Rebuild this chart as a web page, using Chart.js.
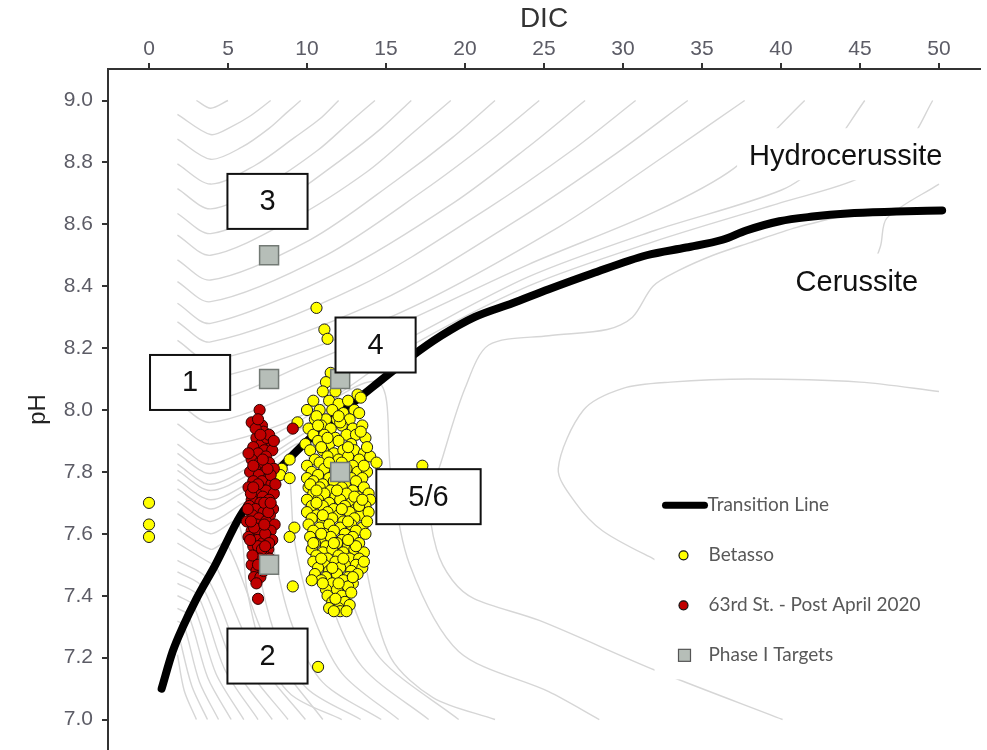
<!DOCTYPE html>
<html><head><meta charset="utf-8">
<script src="https://cdn.jsdelivr.net/npm/chart.js@4.4.1/dist/chart.umd.min.js"></script>
<style>html,body{margin:0;padding:0;background:#fff;}#wrap{width:987px;height:750px;}</style>
</head><body><div id="wrap"><canvas id="c" width="987" height="750"></canvas></div>
<script>
const xTicks = [0,5,10,15,20,25,30,35,40,45,50];
const yTicks = [7.0,7.2,7.4,7.6,7.8,8.0,8.2,8.4,8.6,8.8,9.0];
const xTitle = 'DIC';
const yTitle = 'pH';

const transitionDIC = [0.8,1.5,2.15,3.0,4.2,5.8,7.0,8.35,9.6,10.9,13.2,16.4,18.5,20.6,23.0,25.3,28.0,31.5,34.0,36.3,37.8,39.9,42.0,44.2,47.3,50.2];
const transitionPH  = [7.10,7.22,7.30,7.39,7.50,7.66,7.74,7.815,7.88,7.94,8.035,8.165,8.24,8.30,8.345,8.39,8.44,8.50,8.525,8.55,8.58,8.61,8.625,8.635,8.641,8.645];

const betasso = [
[11.5,8.12],[11.2,8.09],[12.3,8.09],[11.0,8.06],[11.8,8.06],[13.2,8.05],[13.4,8.04],
[10.4,8.03],[11.4,8.03],[12.0,8.02],[12.6,8.03],
[10.0,8.00],[10.8,8.00],[11.6,8.00],[12.3,7.99],[13.0,8.00],[13.3,7.99],
[9.4,7.96],[10.5,7.97],[11.2,7.97],[11.9,7.97],[12.7,7.97],
[10.1,7.94],[10.9,7.95],[11.5,7.94],[12.2,7.95],[12.9,7.94],[13.5,7.95],
[10.4,7.92],[11.1,7.92],[11.8,7.91],[12.5,7.92],[13.1,7.92],[13.7,7.91],
[9.9,7.89],[10.7,7.90],[11.4,7.89],[12.0,7.90],[12.8,7.89],
[10.2,7.87],[11.0,7.87],[11.7,7.86],[12.3,7.87],[13.0,7.87],[13.6,7.86],
[10.5,7.84],[11.3,7.85],[12.0,7.84],[12.6,7.85],[13.3,7.84],[14.0,7.85],
[8.9,7.84],[10.0,7.82],[10.8,7.83],[11.5,7.82],[12.2,7.83],[12.9,7.82],[14.4,7.83],[17.3,7.82],
[8.4,7.81],[10.3,7.80],[11.1,7.81],[11.8,7.80],[12.5,7.81],[13.2,7.80],[13.8,7.80],
[8.3,7.79],[10.0,7.78],[10.7,7.79],[11.4,7.78],[12.1,7.79],[12.8,7.78],[13.5,7.78],
[8.9,7.78],[10.4,7.77],[11.0,7.76],[11.7,7.77],[12.4,7.76],[13.1,7.77],
[10.1,7.75],[10.8,7.75],[11.5,7.74],[12.2,7.75],[12.9,7.74],[13.6,7.75],
[10.4,7.73],[11.1,7.73],[11.8,7.72],[12.5,7.73],[13.2,7.72],[13.9,7.73],
[10.0,7.71],[10.7,7.71],[11.4,7.70],[12.1,7.71],[12.8,7.70],[14.0,7.71],
[10.3,7.69],[11.0,7.69],[11.7,7.68],[12.4,7.69],[13.1,7.68],[13.7,7.69],
[10.0,7.67],[10.6,7.66],[11.3,7.67],[12.0,7.66],[12.7,7.67],[13.4,7.66],[13.9,7.67],
[10.3,7.65],[11.0,7.64],[11.6,7.65],[12.3,7.64],[13.0,7.65],
[10.1,7.63],[10.8,7.62],[11.4,7.63],[12.1,7.62],[12.8,7.63],[13.5,7.62],
[9.2,7.62],[10.4,7.61],[11.1,7.60],[11.7,7.61],[12.4,7.60],[13.1,7.61],[13.7,7.60],
[10.2,7.59],[10.9,7.58],[11.5,7.59],[12.2,7.58],[12.9,7.59],[8.9,7.59],
[10.5,7.57],[11.2,7.56],[11.9,7.57],[12.6,7.56],[13.3,7.57],
[10.3,7.55],[11.0,7.54],[11.6,7.55],[12.3,7.54],[13.0,7.55],[13.6,7.54],
[10.6,7.53],[11.3,7.52],[12.0,7.53],[12.7,7.52],[13.3,7.52],
[10.4,7.51],[11.1,7.50],[11.8,7.51],[12.4,7.50],[13.1,7.50],
[10.7,7.49],[11.4,7.48],[12.1,7.49],[12.8,7.48],[13.5,7.49],
[10.5,7.47],[11.2,7.46],[11.9,7.47],[12.6,7.46],[13.2,7.47],
[10.9,7.45],[11.6,7.44],[12.3,7.45],[12.9,7.44],[10.3,7.45],
[9.1,7.43],[11.2,7.42],[11.9,7.42],[12.6,7.43],
[11.3,7.40],[12.2,7.40],[12.8,7.41],[11.6,7.38],[12.4,7.38],
[11.4,7.36],[12.0,7.36],[12.1,7.35],
[10.6,7.98],[12.1,7.96],[13.4,7.93],[10.9,7.88],[12.6,7.88],[11.4,7.83],[13.6,7.82],[10.2,7.76],[11.9,7.74],[13.0,7.72],
[10.6,7.70],[12.2,7.68],[13.3,7.69],[11.0,7.66],[12.6,7.64],[13.8,7.64],[10.4,7.57],[11.7,7.57],[13.1,7.56],[10.9,7.52],
[12.3,7.52],[13.6,7.51],[11.6,7.49],[12.9,7.46],[11.0,7.44],[12.0,7.44],[11.8,7.39],[12.7,7.37],[11.7,7.35],[12.5,7.35],
[10.7,7.95],[12.0,7.98],[11.3,7.91],[13.8,7.88],[10.6,7.74],[13.5,7.71],[10.9,7.60],[12.6,7.58],
[0,7.70],[0,7.63],[0,7.59],[10.6,8.33],[11.1,8.26],[11.3,8.23],[10.7,7.17]
];

const st63 = [
[7.0,8.00],[6.5,7.96],[7.15,7.95],[9.1,7.94],[6.8,7.91],[7.5,7.90],[7.1,7.89],[6.6,7.88],[7.3,7.87],[7.8,7.87],
[6.9,7.86],[7.4,7.85],[6.5,7.84],[7.0,7.83],[7.6,7.83],[7.2,7.82],[6.7,7.81],[7.9,7.81],[7.35,7.80],[6.4,7.80],
[6.95,7.79],[7.55,7.78],[7.15,7.77],[6.6,7.77],[7.75,7.76],[7.0,7.75],[6.3,7.75],[7.4,7.74],[6.8,7.73],[7.9,7.73],
[7.2,7.72],[6.5,7.71],[7.6,7.71],[7.05,7.70],[6.35,7.69],[7.45,7.69],[6.75,7.68],[7.85,7.68],[7.25,7.67],[6.55,7.66],
[7.65,7.66],[6.95,7.65],[6.2,7.64],[7.4,7.64],[7.95,7.63],[6.8,7.63],[7.15,7.62],[6.5,7.61],[7.7,7.61],[7.0,7.60],
[6.3,7.59],[7.45,7.59],[6.85,7.58],[7.8,7.58],[7.2,7.57],[6.6,7.56],[7.55,7.55],[6.95,7.54],[7.3,7.53],[6.7,7.52],
[7.1,7.51],[6.5,7.50],[7.4,7.49],[6.8,7.48],[6.65,7.46],[7.05,7.46],[6.8,7.44],[6.9,7.39],
[7.25,7.93],[7.45,7.91],[6.75,7.94],[7.6,7.92],[7.05,7.92],[6.6,7.82],[7.7,7.79],[7.5,7.81],[6.9,7.76],[7.3,7.70],
[6.45,7.73],[7.55,7.67],[6.65,7.62],[7.35,7.60],[7.6,7.57],[6.9,7.56],[7.15,7.55],[7.0,7.52],[6.55,7.53],[7.25,7.48],
[6.4,7.58],[7.65,7.52],[6.25,7.68],[8.0,7.76],[7.9,7.90],[6.3,7.86],
[6.9,7.97],[7.2,7.84],[6.6,7.75],[7.3,7.63],[6.9,7.50],[7.35,7.56],[6.45,7.64],[7.7,7.70]
];

const phaseTargets = [[7.6,8.50],[7.6,8.10],[12.1,8.10],[12.1,7.80],[7.6,7.50]];

const seriesNames = ['Transition Line','Betasso','63rd St. - Post April 2020','Phase I Targets'];

const boxLabels = ['3','1','4','5/6','2'];
const boxDIC = [7.5,2.6,14.34,17.69,7.5];
const boxPH = [8.674,8.089,8.21,7.72,7.205];

const regionLabels = ['Hydrocerussite','Cerussite'];
const regionDIC = [44.1,44.8];
const regionPH = [8.82,8.415];

// background solubility contours [DIC, pH]
const contourLines = [
[[3.0,9.0],[3.9,8.975],[5.0,9.0]],
[[1.8,8.955],[3.9,8.89],[5.2,8.915],[6.4,8.95],[7.7,9.0]],
[[1.8,8.875],[3.9,8.81],[5.9,8.85],[7.6,8.91],[8.7,8.96],[9.6,9.0]],
[[1.8,8.795],[3.9,8.73],[6.7,8.79],[9.2,8.88],[10.8,8.94],[12.0,9.0]],
[[1.8,8.715],[3.9,8.65],[7.5,8.73],[10.7,8.84],[12.7,8.93],[14.3,9.0]],
[[1.8,8.635],[3.9,8.57],[8.3,8.67],[12.2,8.81],[14.7,8.91],[16.6,9.0]],
[[1.8,8.565],[3.9,8.50],[9.2,8.62],[13.8,8.77],[16.8,8.90],[19.1,9.0]],
[[1.8,8.485],[3.9,8.42],[10.2,8.55],[15.6,8.74],[19.2,8.88],[21.9,9.0]],
[[1.8,8.415],[3.9,8.35],[11.2,8.50],[17.4,8.71],[21.6,8.87],[24.7,9.0]],
[[1.8,8.345],[3.9,8.28],[12.2,8.45],[19.3,8.67],[24.0,8.85],[27.6,9.0]],
[[1.8,8.285],[3.9,8.22],[13.3,8.40],[21.4,8.65],[26.8,8.84],[30.8,9.0]],
[[1.8,8.225],[3.9,8.16],[14.5,8.35],[23.5,8.62],[29.6,8.83],[34.1,9.0]],
[[1.8,8.165],[3.9,8.10],[15.7,8.31],[25.9,8.59],[32.6,8.82],[37.7,9.0]],
[[1.8,8.095],[3.9,8.03],[10,8.15],[16,8.28],[24,8.47],[32,8.64],[37,8.78],[41.5,9.0]],
[[1.8,8.025],[3.9,7.96],[10,8.07],[16,8.22],[24,8.43],[32,8.58],[40,8.71],[42.5,8.80],[45.3,9.0]],
[[1.8,7.955],[3.9,7.89],[10,7.99],[16,8.19],[24,8.40],[32,8.545],[40,8.67],[45,8.75],[48,8.86],[49.6,9.0]],
// contours rising to the transition line then descending
[[1.8,7.89],[3.9,7.825],[9,7.95],[14.5,8.09],[15.3,7.8],[16.5,7.5],[19.6,7.22],[25.3,7.09],[28.5,7.0]],
[[1.8,7.86],[3.9,7.795],[8,7.89],[12.5,8.01],[13.0,7.75],[13.9,7.45],[15.3,7.2],[18,7.07],[21.9,7.0]],
[[1.8,7.825],[3.9,7.76],[7.5,7.85],[11.0,7.94],[11.6,7.68],[12.6,7.42],[14.6,7.2],[19.6,7.0]],
[[1.8,7.805],[3.9,7.74],[7,7.81],[9.8,7.89],[10.4,7.63],[11.5,7.38],[13.5,7.17],[17.7,7.0]],
[[1.8,7.775],[3.9,7.71],[6.5,7.77],[8.6,7.83],[9.2,7.58],[10.3,7.35],[12.2,7.15],[15.8,7.0]],
[[1.8,7.745],[3.9,7.68],[5.8,7.73],[7.4,7.77],[8.0,7.52],[9.1,7.3],[11.0,7.12],[14.7,7.0]],
[[1.8,7.705],[3.9,7.64],[6.4,7.70],[7.0,7.47],[8.1,7.26],[10.0,7.1],[13.4,7.0]],
[[1.8,7.665],[3.9,7.60],[5.6,7.64],[6.2,7.42],[7.2,7.22],[9.0,7.08],[12.2,7.0]],
[[1.8,7.615],[3.9,7.55],[4.9,7.57],[7.65,7.228],[11.0,7.0]],
[[1.8,7.57],[3.9,7.505],[4.2,7.50],[6.77,7.20],[9.9,7.0]],
[[1.8,7.514],[3.7,7.455],[6.0,7.182],[8.8,7.0]],
[[1.8,7.477],[3.4,7.427],[5.38,7.171],[7.8,7.0]],
[[1.8,7.44],[3.1,7.40],[4.81,7.16],[6.9,7.0]],
[[1.8,7.40],[2.8,7.369],[4.24,7.148],[6.0,7.0]],
[[1.8,7.359],[2.5,7.337],[3.72,7.135],[5.2,7.0]],
[[1.8,7.318],[2.2,7.306],[3.19,7.122],[4.4,7.0]],
[[1.9,7.27],[2.71,7.108],[3.7,7.0]],
[[1.8,7.21],[2.23,7.093],[3.0,7.0]],
// cerussite-field loops
[[44.5,8.635],[41,8.59],[38,8.54],[35.7,8.50],[33.5,8.45],[31.9,8.40],[30.6,8.30],[29,8.26],[25.3,8.24],[21.5,8.21],[20,8.07],[18.6,7.85],[17.8,7.7],[18.2,7.55],[19.2,7.45],[20.6,7.39],[24.7,7.32],[32,7.16],[40.1,7.0]],
[[50,8.06],[45,8.09],[38,8.10],[33,8.09],[30,8.07],[27.5,8.00],[25.9,7.81],[27,7.70],[28.7,7.61],[31.9,7.52],[36,7.42],[42,7.32],[50,7.22]],
[[50,8.73],[46.7,8.62],[46.3,8.53],[45.5,8.42],[45.2,8.37]]
];

const AX_FONT = 'Liberation Sans';

const contourDatasets = contourLines.map(pts => ({
  type: 'scatter', showLine: true, fill: false,
  data: pts.map(p => ({x: p[0], y: p[1]})),
  borderColor: '#d6d6d6', borderWidth: 1.4, pointRadius: 0, pointHoverRadius: 0,
  tension: 0.3, order: 10
}));

const datasets = [
  {
    label: seriesNames[3], data: phaseTargets.map(p => ({x: p[0], y: p[1]})),
    pointStyle: 'rect', pointRadius: 13.4, backgroundColor: '#b6beb8', borderColor: '#737a75', borderWidth: 1.5, order: 1
  },
  {
    label: seriesNames[2], data: st63.map(p => ({x: p[0], y: p[1]})),
    pointRadius: 5.6, backgroundColor: '#c00000', borderColor: '#2a0000', borderWidth: 1, order: 2
  },
  {
    label: seriesNames[1], data: betasso.map(p => ({x: p[0], y: p[1]})),
    pointRadius: 5.6, backgroundColor: '#ffff00', borderColor: '#1a1a1a', borderWidth: 1, order: 3
  },
  {
    label: seriesNames[0], showLine: true, fill: false,
    data: transitionDIC.map((d, i) => ({x: d, y: transitionPH[i]})),
    borderColor: '#000', borderWidth: 8, borderCapStyle: 'round', borderJoinStyle: 'round',
    cubicInterpolationMode: 'monotone', pointRadius: 0, order: 4
  },
  ...contourDatasets
];

const overlay = {
  id: 'overlay',
  afterDatasetsDraw(chart) {
    const ctx = chart.ctx, xs = chart.scales.x, ys = chart.scales.y;
    ctx.save();
    ctx.font = '29px "Liberation Sans"';
    ctx.textBaseline = 'middle'; ctx.textAlign = 'center';
    regionLabels.forEach((t, i) => {
      const cx = xs.getPixelForValue(regionDIC[i]), cy = ys.getPixelForValue(regionPH[i]);
      const w = ctx.measureText(t).width;
      ctx.fillStyle = '#fff';
      ctx.fillRect(cx - w / 2 - 12, cy - 28, w + 24, 52);
      ctx.fillStyle = '#111';
      ctx.fillText(t, cx, cy + 1);
    });
    boxLabels.forEach((t, i) => {
      const cx = xs.getPixelForValue(boxDIC[i]), cy = ys.getPixelForValue(boxPH[i]);
      const tw = ctx.measureText(t).width;
      const w = Math.max(65, tw + 64), h = 55;
      ctx.fillStyle = '#fff';
      ctx.fillRect(cx - w / 2, cy - h / 2, w, h);
      ctx.lineWidth = 2; ctx.strokeStyle = '#111';
      ctx.strokeRect(cx - w / 2, cy - h / 2, w, h);
      ctx.fillStyle = '#111';
      ctx.fillText(t, cx, cy + 1);
    });
    // legend
    const lx = xs.getPixelForValue(32.5), ly = ys.getPixelForValue(7.692);
    ctx.fillStyle = '#fff';
    ctx.fillRect(lx - 8, ly - 22, 290, 196);
    ctx.font = '19px Lato';
    ctx.textAlign = 'left';
    ctx.fillStyle = '#595959';
    const tx = lx + 46, step = 50;
    ctx.beginPath(); ctx.lineCap = 'round'; ctx.lineWidth = 7; ctx.strokeStyle = '#000';
    ctx.moveTo(lx + 3, ly); ctx.lineTo(lx + 42, ly); ctx.stroke();
    ctx.fillText(seriesNames[0], lx + 45, ly);
    [[1, '#ffff00'], [2, '#c00000']].forEach(([k, col]) => {
      const y = ly + step * k;
      ctx.beginPath(); ctx.arc(lx + 21, y, 4.5, 0, Math.PI * 2);
      ctx.fillStyle = col; ctx.fill(); ctx.lineWidth = 1.2; ctx.strokeStyle = '#111'; ctx.stroke();
      ctx.fillStyle = '#595959';
      ctx.fillText(seriesNames[k], tx, y);
    });
    const sy = ly + step * 3;
    ctx.fillStyle = '#b6beb8'; ctx.fillRect(lx + 16, sy - 6, 12, 12);
    ctx.lineWidth = 1.2; ctx.strokeStyle = '#555'; ctx.strokeRect(lx + 16, sy - 6, 12, 12);
    ctx.fillStyle = '#595959';
    ctx.fillText(seriesNames[3], tx, sy);
    ctx.restore();
  }
};

new Chart(document.getElementById('c'), {
  type: 'scatter',
  data: { datasets },
  options: {
    responsive: false, animation: false, devicePixelRatio: 1,
    layout: { autoPadding: false, padding: { left: 0, right: 7, top: 0, bottom: 0 } },
    plugins: { legend: { display: false }, tooltip: { enabled: false } },
    scales: {
      x: {
        type: 'linear', position: 'top', min: -2.595, max: 52.595,
        afterBuildTicks: s => { s.ticks = xTicks.map(v => ({ value: v })); },
        afterFit: s => { s.height = 69; s.paddingLeft = 0; s.paddingRight = 0; },
        grid: { drawOnChartArea: false, drawTicks: true, tickLength: 6, color: '#333', lineWidth: 2 },
        border: { display: true, color: '#333', width: 2 },
        ticks: { font: { family: AX_FONT, size: 21 }, color: '#5c5c66', padding: 1, maxRotation: 0 },
        title: { display: true, text: xTitle, font: { family: AX_FONT, size: 28 }, color: '#333', padding: { top: 2, bottom: 0 } }
      },
      y: {
        type: 'linear', position: 'left', min: 6.9015, max: 9.1018,
        afterBuildTicks: s => { s.ticks = yTicks.map(v => ({ value: v })); },
        afterFit: s => { s.width = 108; s.paddingTop = 0; s.paddingBottom = 0; },
        grid: { drawOnChartArea: false, drawTicks: true, tickLength: 6, color: '#333', lineWidth: 2 },
        border: { display: true, color: '#333', width: 2 },
        ticks: { font: { family: AX_FONT, size: 21 }, color: '#5c5c66', padding: 9, callback: v => Number(v).toFixed(1) },
        title: { display: true, text: yTitle, font: { family: AX_FONT, size: 24 }, color: '#222', padding: { top: 24, bottom: 0 } }
      }
    }
  },
  plugins: [overlay]
});
</script>
</body></html>
